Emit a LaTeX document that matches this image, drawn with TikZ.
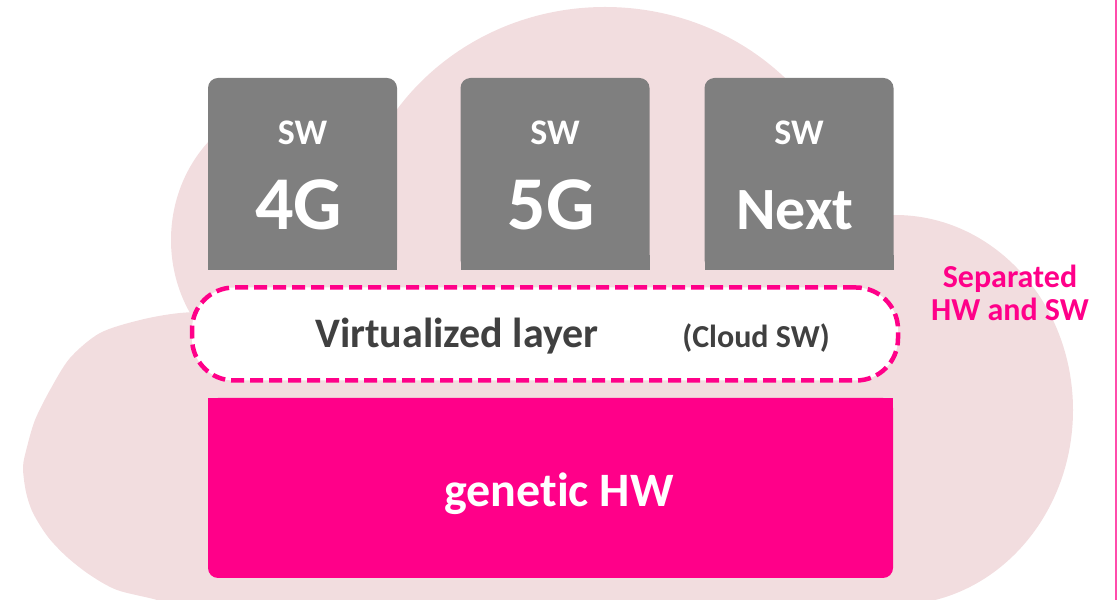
\documentclass[tikz,border=0pt]{standalone}
\usepackage{fontspec}
\setmainfont{Carlito}[Ligatures=NoCommon]
\usepackage{tikz}

\definecolor{cloudpink}{RGB}{242,221,223}
\definecolor{swgray}{RGB}{127,127,127}
\definecolor{hwpink}{RGB}{255,0,137}
\definecolor{txtgray}{RGB}{64,64,64}

\begin{document}
\begin{tikzpicture}[x=1pt,y=1pt,
  swbox/.style={fill=swgray,rounded corners=10pt,minimum width=189pt,minimum height=192pt,inner sep=0pt,outer sep=0pt},
  hwbox/.style={fill=hwpink,rounded corners=10pt,minimum width=685pt,minimum height=180pt,inner sep=0pt,outer sep=0pt},
  vlayer/.style={draw=hwpink,fill=white,line width=4.5pt,dash pattern=on 13pt off 6pt,rounded corners=42pt,minimum width=706pt,minimum height=93pt,inner sep=0pt,outer sep=0pt},
  swsmall/.style={text=white,font=\fontsize{36}{40}\selectfont\bfseries,anchor=base,inner sep=0pt},
  hwtext/.style={text=white,font=\fontsize{48}{52}\selectfont\bfseries,anchor=base,inner sep=0pt},
  vltext/.style={text=txtgray,font=\fontsize{42}{46}\selectfont\bfseries,anchor=base,inner sep=0pt},
  cloudsw/.style={text=txtgray,font=\fontsize{32}{36}\selectfont\bfseries,anchor=base,inner sep=0pt},
  sepnote/.style={text=hwpink,font=\fontsize{32}{33}\selectfont\bfseries,align=center,inner sep=0pt}]
\useasboundingbox (0,0) rectangle (1117,600);
\clip (0,0) rectangle (1117,600);
% cloud
\fill[cloudpink] plot[smooth] coordinates {(240,290) (180,287) (140,280) (100,267) (70,242) (50,210) (35,180) (27,153) (23,133) (26,108) (33,87) (48,63) (67,43) (90,25) (117,10) (157,0) (190,-12)} -- (260,-12) -- (260,290) -- cycle;
\fill[cloudpink] (301,360) ellipse [x radius=130,y radius=140];
\fill[cloudpink] (605,350) ellipse [x radius=255,y radius=243];
\fill[cloudpink] (895,190) ellipse [x radius=178,y radius=195];
\fill[cloudpink] (180,-5) rectangle (880,250);
% software boxes
\foreach \x/\gen/\sz [count=\i] in {302.5/4G/76,555/5G/76,799/Next/60}{
  \node[swbox] (box\i) at (\x,426) {};
  \fill[swgray] (box\i.south west) rectangle ([yshift=15pt]box\i.south east);
  \node[swsmall] (sw\i) at (\x,455) {SW};
  \node[swsmall,font=\fontsize{\sz}{\sz}\selectfont\bfseries] (gen\i) at (\x-4,370) {\gen};
}
% virtualized layer
\node[vlayer] (vl) at (545,266) {};
\node[vltext] (vllabel) at (457,252) {Virtualized layer};
\node[cloudsw] (cloudlabel) at (756,252) {(Cloud SW)};
% hardware
\node[hwbox] (hw) at (550.5,112) {};
\fill[hwpink] ([yshift=-15pt]hw.north west) rectangle (hw.north east);
\node[hwtext] (hwlabel) at (559,93) {genetic HW};
\node[sepnote] (sep) at (1010,307) {Separated\\HW and SW};
\draw[hwpink!70,line width=1.2pt] (1116,0) -- (1116,600);
\end{tikzpicture}
\end{document}
